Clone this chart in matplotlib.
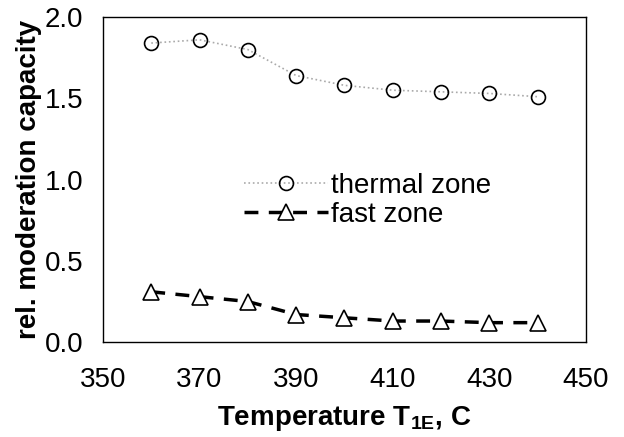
import numpy as np
import matplotlib.pyplot as plt

plt.rcParams['font.family'] = ['Liberation Sans', 'DejaVu Sans']

temp = [360, 370, 380, 390, 400, 410, 420, 430, 440]
thermal = [1.84, 1.86, 1.80, 1.64, 1.58, 1.55, 1.54, 1.53, 1.51]
fast = [0.31, 0.28, 0.25, 0.17, 0.15, 0.13, 0.13, 0.12, 0.12]

fig = plt.figure(figsize=(6.24, 4.37), dpi=100)
ax = fig.add_axes([0.165, 0.217, 0.774, 0.744])

ax.plot(temp, thermal, color='#aaaaaa', linestyle=':', linewidth=1.2,
        marker='o', markersize=10, markerfacecolor='none',
        markeredgecolor='black', markeredgewidth=1.2, label='thermal zone')
ax.plot(temp, fast, color='black', linestyle=(0, (4, 3)), linewidth=2.5,
        marker='^', markersize=11, markerfacecolor='white',
        markeredgecolor='black', markeredgewidth=1.2, label='fast zone')

ax.set_xlim(350, 450)
ax.set_ylim(0, 2.0)
ax.set_xticks(np.arange(350, 451, 20))
ax.set_yticks([0.0, 0.5, 1.0, 1.5, 2.0])
ax.set_yticklabels(['0.0', '0.5', '1.0', '1.5', '2.0'])
ax.tick_params(axis='both', labelsize=20, length=0)
ax.tick_params(axis='x', pad=18)
ax.tick_params(axis='y', pad=14)

for s in ax.spines.values():
    s.set_linewidth(1.0)

ax.set_xlabel('Temperature T$_{\\mathregular{1E}}$, C', fontsize=20,
              fontweight='bold', labelpad=8)
ax.set_ylabel('rel. moderation capacity', fontsize=20, fontweight='bold',
              labelpad=2)

leg = ax.legend(loc='upper left', bbox_to_anchor=(0.27, 0.555), frameon=False,
                fontsize=20, handlelength=3.0, handletextpad=0.1,
                labelspacing=0.1, borderaxespad=0)

fig.savefig('out.png', dpi=100)
